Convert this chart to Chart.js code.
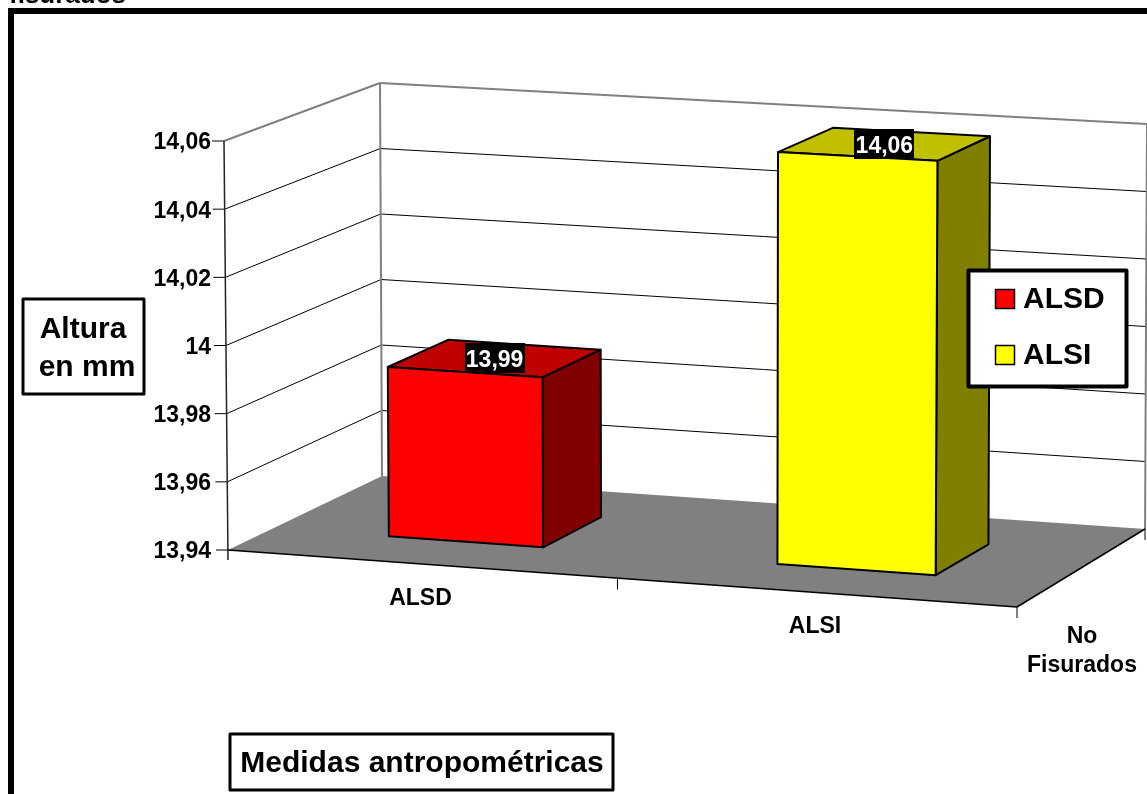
<!DOCTYPE html>
<html>
<head>
<meta charset="utf-8">
<title>Medidas antropométricas</title>
<script src="https://cdn.jsdelivr.net/npm/chart.js@4/dist/chart.umd.min.js"></script>
<style>
  html, body { margin: 0; padding: 0; background: #fff; overflow: hidden; }
  canvas { display: block; }
</style>
</head>
<body>
<canvas id="alturaChart" width="1147" height="794"></canvas>
<script>
const categories = ["ALSD", "ALSI"];
const seriesName = ["No", "Fisurados"];
const alturaValues = [13.99, 14.06];
const valueLabels = ["13,99", "14,06"];
const yTickLabels = ["13,94", "13,96", "13,98", "14", "14,02", "14,04", "14,06"];
const yMin = 13.94;
const yMax = 14.06;
const yStep = 0.02;

const frontColors = ["#ff0000", "#ffff00"];
const sideColors = ["#800000", "#808000"];
const topColors = ["#c00000", "#c0c000"];

const FONT = '"Liberation Sans", Arial, sans-serif';
const DEPTH_FRONT = 0.3;
const DEPTH_BACK = 0.7;

// u runs along the category axis, d goes into the chart, yPx comes from the y scale
function project(chart, u, d, yPx) {
  const { left, right, top, bottom } = chart.chartArea;
  const t = (bottom - yPx) / (bottom - top);
  const height = bottom - top + 12 * u - 16 * d;
  const lean = t * (-4 + 7 * u + d * (2 - 3 * u));
  return {
    x: left + (right - left) * u + d * (154 - 26 * u) - 20 * u * (1 - u) + lean,
    y: bottom + 57 * u - d * (74 + 4 * u) - t * height,
  };
}

function fillPoly(ctx, points, fill, stroke, lineWidth) {
  ctx.beginPath();
  points.forEach((p, i) => (i ? ctx.lineTo(p.x, p.y) : ctx.moveTo(p.x, p.y)));
  ctx.closePath();
  if (fill) {
    ctx.fillStyle = fill;
    ctx.fill();
  }
  if (stroke) {
    ctx.strokeStyle = stroke;
    ctx.lineWidth = lineWidth;
    ctx.lineJoin = "round";
    ctx.stroke();
  }
}

function line(ctx, a, b, color, width) {
  ctx.beginPath();
  ctx.moveTo(a.x, a.y);
  ctx.lineTo(b.x, b.y);
  ctx.strokeStyle = color;
  ctx.lineWidth = width;
  ctx.stroke();
}

function drawBoxText(ctx, box, rows, size) {
  ctx.fillStyle = "#fff";
  ctx.fillRect(box.x, box.y, box.w, box.h);
  ctx.strokeStyle = "#000";
  ctx.lineWidth = box.border;
  ctx.strokeRect(box.x, box.y, box.w, box.h);
  ctx.fillStyle = "#000";
  ctx.font = "bold " + size + "px " + FONT;
  ctx.textAlign = "center";
  ctx.textBaseline = "middle";
  rows.forEach((r) => ctx.fillText(r.text, r.x, r.y));
}

// Walls, floor and axis lines behind the bars
function drawWalls(chart) {
  const ctx = chart.ctx;
  const yScale = chart.scales.y;
  const { top, bottom } = chart.chartArea;

  fillPoly(ctx, [
    project(chart, 0, 0, bottom),
    project(chart, 1, 0, bottom),
    project(chart, 1, 1, bottom),
    project(chart, 0, 1, bottom),
  ], "#808080");

  yScale.ticks.forEach((tick, i) => {
    const y = yScale.getPixelForTick(i);
    const color = y === top ? "#808080" : "#000";
    const width = y === top ? 2 : 1;
    const front = project(chart, 0, 0, y);
    const backLeft = project(chart, 0, 1, y);
    const backRight = project(chart, 1, 1, y);
    if (y !== bottom) {
      line(ctx, front, backLeft, color, width);
      line(ctx, backLeft, backRight, color, width);
    }
    line(ctx, { x: front.x - 12, y: front.y }, front, "#000", 1);
  });

  line(ctx, project(chart, 0, 1, top), project(chart, 0, 1, bottom), "#808080", 2);
  const backRightFoot = project(chart, 1, 1, bottom);
  line(ctx, project(chart, 1, 1, top), { x: backRightFoot.x, y: backRightFoot.y + 11 }, "#808080", 2);
  const axisFoot = project(chart, 0, 0, bottom);
  line(ctx, project(chart, 0, 0, top), { x: axisFoot.x, y: axisFoot.y + 10 }, "#222", 1.5);

  line(ctx, project(chart, 0, 0, bottom), project(chart, 1, 0, bottom), "#000", 1.5);
  line(ctx, project(chart, 1, 0, bottom), project(chart, 1, 1, bottom), "#000", 1.5);
  [0.5, 1].forEach((u) => {
    const foot = project(chart, u, 0, bottom);
    line(ctx, foot, { x: foot.x, y: foot.y + 11 }, "#000", 1);
  });
}

// Each bar is a box built from the element that Chart.js laid out
function drawBars(chart) {
  const ctx = chart.ctx;
  const { left, right } = chart.chartArea;
  const span = right - left;
  chart.getDatasetMeta(0).data.forEach((bar, i) => {
    const u0 = (bar.x - bar.width / 2 - left) / span;
    const u1 = (bar.x + bar.width / 2 - left) / span;
    const p = (u, d, y) => project(chart, u, d, y);
    const a = p(u0, DEPTH_FRONT, bar.base);
    const b = p(u1, DEPTH_FRONT, bar.base);
    const c = p(u1, DEPTH_BACK, bar.base);
    const e = p(u0, DEPTH_FRONT, bar.y);
    const f = p(u1, DEPTH_FRONT, bar.y);
    const g = p(u1, DEPTH_BACK, bar.y);
    const h = p(u0, DEPTH_BACK, bar.y);
    fillPoly(ctx, [b, c, g, f], sideColors[i], "#000", 2);
    fillPoly(ctx, [e, f, g, h], topColors[i], "#000", 2);
    fillPoly(ctx, [a, b, f, e], frontColors[i], "#000", 2);
  });
}

function drawValueLabels(chart) {
  const ctx = chart.ctx;
  const { left, right } = chart.chartArea;
  chart.getDatasetMeta(0).data.forEach((bar, i) => {
    const c = project(chart, (bar.x - left) / (right - left), 0.5, bar.y);
    ctx.fillStyle = "#000";
    ctx.fillRect(Math.round(c.x) - 30, Math.round(c.y) - 15, 60, 30);
    ctx.fillStyle = "#fff";
    ctx.font = "bold 23px " + FONT;
    ctx.textAlign = "center";
    ctx.textBaseline = "middle";
    ctx.fillText(valueLabels[i], c.x, c.y + 2);
  });
}

function drawAxisLabels(chart) {
  const ctx = chart.ctx;
  const xScale = chart.scales.x;
  const { left, right, bottom } = chart.chartArea;
  ctx.fillStyle = "#000";
  ctx.font = "bold 23px " + FONT;
  ctx.textAlign = "center";
  ctx.textBaseline = "middle";
  categories.forEach((name, i) => {
    const u = (xScale.getPixelForValue(i) - left) / (right - left);
    const foot = project(chart, u, 0, bottom);
    ctx.fillText(name, foot.x - 1, foot.y + 34);
  });
  const corner = project(chart, 1, 0, bottom);
  ctx.fillText(seriesName[0], corner.x + 65, corner.y + 30);
  ctx.fillText(seriesName[1], corner.x + 65, corner.y + 59);
}

function drawLegend(chart) {
  const ctx = chart.ctx;
  drawBoxText(ctx, { x: 968.5, y: 270.5, w: 158, h: 116, border: 4 }, [], 30);
  ctx.font = "bold 30px " + FONT;
  ctx.textAlign = "left";
  ctx.textBaseline = "middle";
  categories.forEach((name, i) => {
    const y = 299 + i * 56;
    ctx.fillStyle = frontColors[i];
    ctx.fillRect(995.5, y - 9.5, 19, 19);
    ctx.strokeStyle = "#000";
    ctx.lineWidth = 1.5;
    ctx.strokeRect(995.5, y - 9.5, 19, 19);
    ctx.fillStyle = "#000";
    ctx.fillText(name, 1023, y + 1);
  });
}

function drawFrame(chart) {
  const ctx = chart.ctx;
  ctx.fillStyle = "#000";
  ctx.fillRect(8, 8, 1139, 6);
  ctx.fillRect(8, 8, 6, 786);
  ctx.font = "bold 26px " + FONT;
  ctx.textAlign = "left";
  ctx.textBaseline = "alphabetic";
  ctx.fillText("fisurados", 9, 3);
  drawBoxText(ctx, { x: 23, y: 299, w: 121, h: 95, border: 3 }, [
    { text: "Altura", x: 83, y: 330 },
    { text: "en mm", x: 87, y: 368 },
  ], 30);
  drawBoxText(ctx, { x: 230, y: 734, w: 383, h: 56, border: 3 }, [
    { text: "Medidas antropométricas", x: 422, y: 764 },
  ], 30);
}

const box3d = {
  id: "box3d",
  beforeDatasetsDraw(chart) {
    drawWalls(chart);
    drawBars(chart);
    drawValueLabels(chart);
  },
  beforeDatasetDraw() {
    return false; // flat rectangles are replaced by the boxes above
  },
  afterDraw(chart) {
    drawAxisLabels(chart);
    drawLegend(chart);
    drawFrame(chart);
  },
};

new Chart(document.getElementById("alturaChart").getContext("2d"), {
  type: "bar",
  data: {
    labels: categories,
    datasets: [
      {
        label: seriesName.join(" "),
        data: alturaValues,
        base: yMin,
        backgroundColor: frontColors,
        categoryPercentage: 1,
        barPercentage: 0.4,
      },
    ],
  },
  options: {
    responsive: false,
    animation: false,
    layout: { padding: { top: 141, right: 130, bottom: 244, left: 0 } },
    scales: {
      x: { display: false },
      y: {
        min: yMin,
        max: yMax,
        afterFit: (scale) => {
          scale.width = 228;
        },
        border: { display: false },
        grid: { display: false, drawTicks: false },
        ticks: {
          stepSize: yStep,
          padding: 17,
          labelOffset: 2,
          color: "#000",
          font: { family: FONT, size: 23, weight: "bold" },
          callback: (value, index) => yTickLabels[index],
        },
      },
    },
    plugins: {
      legend: { display: false },
      tooltip: { enabled: false },
    },
  },
  plugins: [box3d],
});
</script>
</body>
</html>
